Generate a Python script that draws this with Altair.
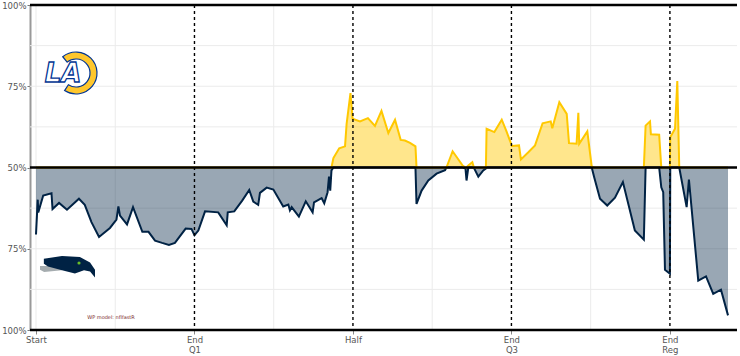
import altair as alt
import pandas as pd

# ---- data ----
game_seconds = [0, 10, 13, 41, 88, 94, 131, 176, 244, 277, 315, 358, 420, 457, 468, 477, 517, 551,
                604, 639, 676, 716, 755, 789, 850, 883, 900, 922, 960, 1035, 1083, 1089, 1126, 1171,
                1211, 1234, 1262, 1272, 1310, 1348, 1404, 1433, 1442, 1452, 1493, 1532, 1571, 1579,
                1622, 1637, 1656, 1664, 1671, 1678, 1689, 1722, 1755, 1764, 1786, 1798, 1840, 1885,
                1925, 1962, 2001, 2039, 2071, 2095, 2124, 2155, 2161, 2190, 2228, 2275, 2323, 2331,
                2366, 2423, 2439, 2445, 2455, 2478, 2487, 2512, 2540, 2555, 2559, 2603, 2645, 2672,
                2703, 2743, 2754, 2796, 2834, 2877, 2923, 2932, 2972, 3014, 3027, 3070, 3080, 3085,
                3131, 3156, 3170, 3203, 3244, 3288, 3333, 3401, 3452, 3462, 3487, 3492, 3539, 3551,
                3562, 3572, 3600, 3602, 3629, 3642, 3653, 3695, 3708, 3761, 3805, 3846, 3890, 3930]
rams_wp = [29.4, 40.1, 36.2, 41.4, 42.1, 37.2, 39.1, 37.0, 40.4, 38.5, 33.2, 28.6, 31.4, 34.0, 38.0,
           35.2, 32.5, 37.8, 30.2, 30.2, 27.5, 26.8, 26.2, 26.8, 31.2, 31.1, 29.2, 30.6, 36.5, 36.2,
           32.2, 36.2, 36.5, 39.8, 43.1, 39.5, 38.5, 42.2, 43.8, 43.2, 38.0, 38.6, 36.8, 37.8, 34.9,
           39.6, 36.2, 39.3, 40.6, 39.0, 42.4, 47.2, 42.9, 49.1, 52.9, 55.9, 56.5, 63.4, 72.9, 65.0,
           64.2, 65.2, 62.8, 67.4, 60.6, 64.7, 58.5, 58.3, 57.6, 56.5, 38.8, 42.9, 46.0, 48.1, 49.2,
           50.0, 55.0, 50.6, 49.7, 46.0, 50.6, 51.6, 49.9, 47.2, 49.1, 49.7, 61.9, 60.9, 64.7, 61.1,
           56.6, 56.8, 52.5, 54.7, 56.8, 63.6, 64.2, 62.1, 70.1, 66.5, 57.5, 57.3, 66.8, 57.3, 61.1,
           50.3, 47.0, 40.4, 38.3, 40.7, 45.5, 30.6, 27.8, 62.9, 64.2, 60.2, 60.1, 43.9, 42.4, 18.5,
           17.3, 59.3, 61.9, 76.6, 50.1, 37.8, 46.3, 15.2, 16.5, 11.1, 12.4, 4.5]

quarter_ticks = [0, 900, 1800, 2700, 3600]
quarter_labels = [["Start"], ["End", "Q1"], ["Half"], ["End", "Q3"], ["End", "Reg"]]
period_ends = [900, 1800, 2700, 3600]
grid_x = [0, 450, 1350, 2250, 3150]
y_ticks = [0, 25, 50, 75, 100]
y_labels = ["100%", "75%", "50%", "75%", "100%"]
grid_y = [12.5, 25, 37.5, 62.5, 75, 87.5]
frame_lines = [0, 50, 100]
credit = "WP model: nflfastR"

RAMS = "#FFC800"
HAWKS = "#002244"
FONT = "DejaVu Sans"

df = pd.DataFrame({"t": game_seconds, "wp": rams_wp})
df["rams"] = df["wp"].clip(lower=50)
df["hawks"] = df["wp"].clip(upper=50)

def list_expr(vals, labels):
    parts = []
    for v, lab in zip(vals, labels):
        if isinstance(lab, list):
            s = "[" + ",".join("'%s'" % x for x in lab) + "]"
        else:
            s = "'%s'" % lab
        parts.append("datum.value == %s ? %s : " % (v, s))
    return "".join(parts) + "''"

x_scale = alt.Scale(domain=[-34, 3981], nice=False, zero=False)
y_scale = alt.Scale(domain=[0, 100], nice=False, zero=False)

x_axis = alt.Axis(values=quarter_ticks, labelExpr=list_expr(quarter_ticks, quarter_labels),
                  title=None, grid=False, domain=False, tickColor="#888888", tickSize=4,
                  labelFont=FONT, labelFontSize=8.5, labelColor="#555555", labelPadding=1,
                  labelLineHeight=10, labelFlush=False, labelOverlap=False)
y_axis = alt.Axis(values=y_ticks, labelExpr=list_expr(y_ticks, y_labels), title=None, grid=False,
                  domain=True, domainColor="#999999", domainWidth=2, tickColor="#777777",
                  tickSize=3, labelFont=FONT, labelFontSize=8.5, labelColor="#555555",
                  labelPadding=1, labelFlush=False, labelOverlap=False)

gy = alt.Chart(pd.DataFrame({"g": grid_y})).mark_rule(color="#ebebeb", strokeWidth=1).encode(
    y=alt.Y("g:Q", scale=y_scale, axis=y_axis))
gx = alt.Chart(pd.DataFrame({"g": grid_x})).mark_rule(color="#ebebeb", strokeWidth=1).encode(
    x=alt.X("g:Q", scale=x_scale, axis=x_axis))

base = alt.Chart(df)
area_h = base.mark_area(color=HAWKS, opacity=0.4).encode(
    x=alt.X("t:Q", scale=x_scale), y=alt.Y("hawks:Q", scale=y_scale), y2=alt.datum(50))
area_r = base.mark_area(color=RAMS, opacity=0.45).encode(
    x=alt.X("t:Q", scale=x_scale), y=alt.Y("rams:Q", scale=y_scale), y2=alt.datum(50))
line_h = base.mark_line(color=HAWKS, strokeWidth=2).encode(
    x=alt.X("t:Q", scale=x_scale), y=alt.Y("hawks:Q", scale=y_scale))
line_r = base.mark_line(color=RAMS, strokeWidth=2).encode(
    x=alt.X("t:Q", scale=x_scale), y=alt.Y("rams:Q", scale=y_scale))

dashes = alt.Chart(pd.DataFrame({"p": period_ends})).mark_rule(
    color="black", strokeWidth=1.4, strokeDash=[3, 3]).encode(x=alt.X("p:Q", scale=x_scale))
frames = alt.Chart(pd.DataFrame({"f": frame_lines})).mark_rule(
    color="black", strokeWidth=2.5).encode(y=alt.Y("f:Q", scale=y_scale))

one = alt.Chart(pd.DataFrame({"a": [0]}))
# Rams logo (approximation); positions are relative to the plot area origin
horn = one.mark_arc(innerRadius=14, outerRadius=21, color="#FFC72C", stroke="#003594",
                    strokeWidth=1.2).encode(x=alt.value(46), y=alt.value(68),
                                            theta=alt.value(5.6), theta2=alt.value(10.0))
la = one.mark_text(text="LA", font=FONT, fontWeight="bold", fontStyle="italic", fontSize=26,
                   fill="white", stroke="#003594", strokeWidth=1.3, baseline="middle",
                   align="center").encode(x=alt.value(33), y=alt.value(69))
# Seahawks logo (approximation)
head_path = ("M -0.86 -0.3 L -0.2 -0.4 L 0.45 -0.36 L 0.82 -0.16 L 1 0.1 L 1 0.38 "
             "L 0.82 0.16 L 0.6 0.12 L 0.27 0.24 L -0.2 0.12 L -0.71 -0.02 L -0.86 -0.12 Z")
band_path = "M -1 -0.04 L -0.35 -0.04 L -0.2 0.12 L -0.85 0.18 L -1 0.1 Z"
head = one.mark_point(shape=head_path, filled=True, size=3025, color=HAWKS, opacity=1).encode(
    x=alt.value(37.5), y=alt.value(262))
band = one.mark_point(shape=band_path, filled=True, size=3025, color="#A5ACAF", opacity=1).encode(
    x=alt.value(37.5), y=alt.value(262))
eye = one.mark_point(shape="circle", filled=True, size=10, color="#69BE28", opacity=1).encode(
    x=alt.value(49), y=alt.value(258))
credit_txt = one.mark_text(text=credit, font=FONT, fontSize=5, color="#7a1f1f",
                           align="center", baseline="middle").encode(
    x=alt.value(81), y=alt.value(312))

chart = alt.layer(gy, gx, area_h, area_r, line_h, line_r, dashes, frames,
                  band, head, eye, horn, la, credit_txt).properties(
    width=707, height=325,
    autosize=alt.AutoSizeParams(type="none"),
    padding={"left": 30, "top": 5, "right": 3, "bottom": 26},
    background="white",
).configure_view(stroke=None)

chart.save("out.html", embed_options={"renderer": "svg", "actions": False})
